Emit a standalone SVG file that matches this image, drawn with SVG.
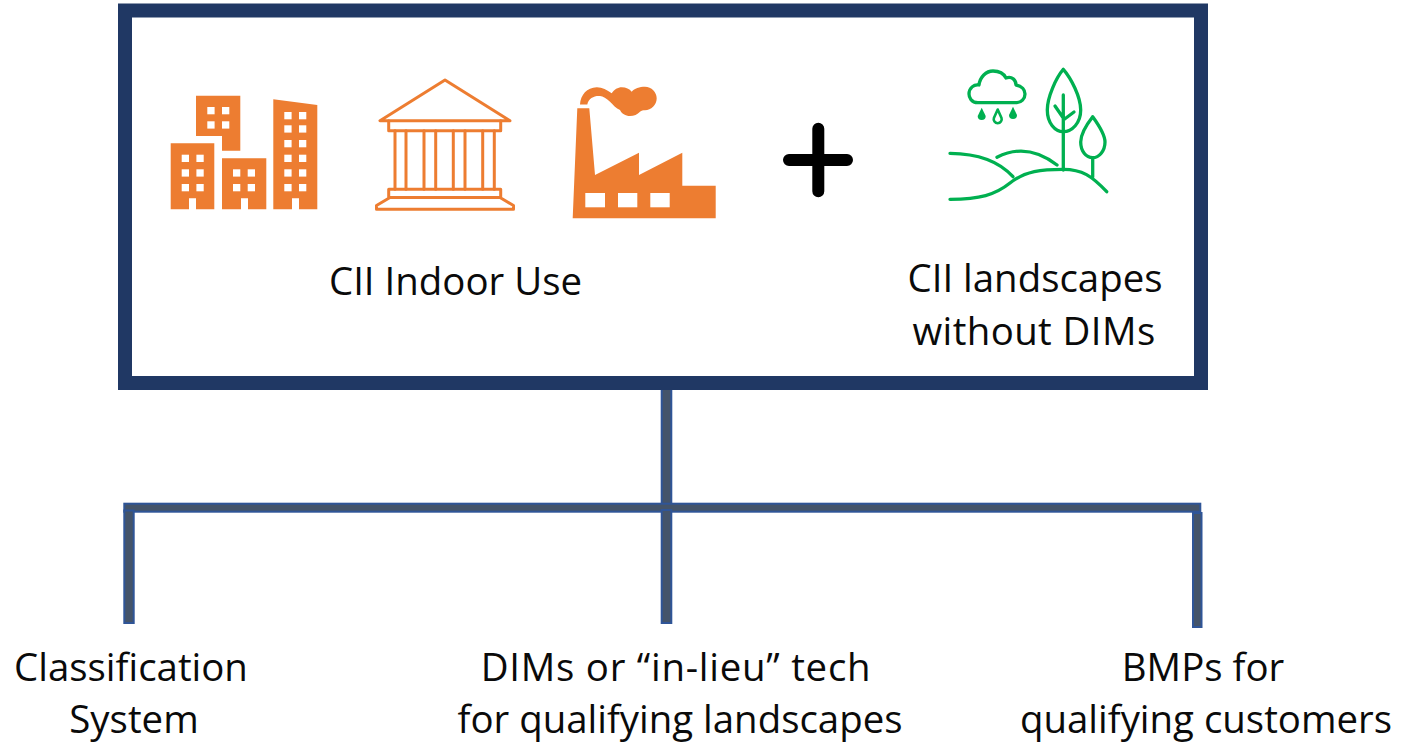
<svg xmlns="http://www.w3.org/2000/svg" width="1404" height="743" viewBox="0 0 1404 743">
<style>
.t{font-family:"Open Sans","Noto Sans","Liberation Sans",sans-serif;font-size:38.400px;fill:#0a0a0a;text-anchor:middle}
.o{fill:#ed7d31}
.w{fill:#fff}
.ol{fill:none;stroke:#ed7d31;stroke-width:3;stroke-linejoin:round;stroke-linecap:round}
.g{fill:none;stroke:#00b050;stroke-width:3.300;stroke-linejoin:round;stroke-linecap:round}
.c{fill:#44546a;stroke:#2f5597;stroke-width:2}
</style>
<defs>
<g id="win"><rect class="w" width="7.300" height="7.300"/><rect class="w" x="14.700" width="7.300" height="7.300"/></g>
</defs>
<rect width="1404" height="743" fill="#fff"/>
<g id="connectors">
<rect class="c" x="661.700" y="388" width="9.600" height="120"/>
<rect class="c" x="124.300" y="503.700" width="1076" height="8"/>
<rect class="c" x="124.300" y="510.500" width="9.400" height="112.500"/>
<rect class="c" x="661.700" y="510" width="9.600" height="113"/>
<rect class="c" x="1193" y="513" width="8.500" height="114"/>
</g>
<g id="main-box">
<rect x="125" y="10.500" width="1076" height="372.500" fill="#fff" stroke="#203864" stroke-width="14"/>
</g>
<g id="buildings">
<path class="o" d="M170.700 143.300H214.300V209.300H196V198.300H189V209.300H170.700Z"/>
<use href="#win" x="181.700" y="154.700"/><use href="#win" x="181.700" y="169.300"/><use href="#win" x="181.700" y="184"/>
<path class="o" d="M196 95.700H240.300V150.700H222V136H196Z"/>
<use href="#win" x="207.300" y="107"/><use href="#win" x="207.300" y="121.300"/>
<path class="o" d="M222 158.300H266.300V209.300H248V198.300H241V209.300H222Z"/>
<use href="#win" x="233" y="169.300"/><use href="#win" x="233" y="184"/>
<path class="o" d="M273.300 99.300L317.300 105V209.300H299V198.300H292V209.300H273.300Z"/>
<use href="#win" x="284.300" y="112"/><use href="#win" x="284.300" y="125.300"/><use href="#win" x="284.300" y="140"/><use href="#win" x="284.300" y="154.700"/><use href="#win" x="284.300" y="169.300"/><use href="#win" x="284.300" y="184"/>
</g>
<g id="temple">
<path class="ol" d="M445 80L380 120.700H510Z"/>
<path class="ol" d="M388.700 120.700V130.700H500.700V120.700"/>
<path class="ol" d="M395 130.700V189.300M406 130.700V189.300M424 130.700V189.300M435.700 130.700V189.300M453.300 130.700V189.300M465 130.700V189.300M482.700 130.700V189.300M494.300 130.700V189.300"/>
<path class="ol" d="M388.700 189.300H500.700V197.500H388.700ZM390 197.500L376.500 205.500V209.300H513.500V205.500L500 197.500"/>
</g>
<g id="factory">
<path class="o" d="M572.700 218.300L577.300 108.300H589.300L595 175L639 152.700V175L682.300 152.700V185.700H715.700V218.300Z"/>
<rect class="w" x="585.300" y="193" width="19.700" height="14.300"/><rect class="w" x="618" y="193" width="19.300" height="14.300"/><rect class="w" x="650.300" y="193" width="19.400" height="14.300"/>
<path class="o" d="M580 104.500C580.500 95 587 87.500 596.700 87.300C602 87.200 607 90 611.700 93.300C614 89.500 618 87.300 621.700 87.300C626 87.300 629.500 89 631.700 91.700C634.500 88.500 639.500 86.700 645 86.700C651.500 86.700 656.700 92 656.700 98.300C656.700 105 651 110.300 645 110.300C643 110.300 641.500 110.600 640 111.700C637.500 114.500 634 116 630 116C625.500 116 621.500 113.500 620 110C616 108.500 613 104.500 610 101.700C606.500 98.500 603 96 600 96C594.500 95.500 588.500 98 587.300 104.500Z"/>
</g>
<g id="plus">
<path d="M789 160H847M818.300 128.700V191.300" fill="none" stroke="#000" stroke-width="12" stroke-linecap="round"/>
</g>
<g id="landscape">
<path class="g" d="M978 102.700C971 102.700 969 97 969 94C969 88 974 84 979 85C980 77 986 71 993 71C999 71 1004 74 1006 78C1012 76 1016 80 1016 85C1022 86 1025 90 1025 94C1025 99 1021 102.700 1017 102.700Z"/>
<path d="M981.700 107.700L985.700 116A4 4 0 1 1 977.700 116Z" fill="#00b050"/>
<path d="M1013 106.700L1017 115A4 4 0 1 1 1009 115Z" fill="#00b050"/>
<path d="M997.700 109.500L1001.500 118A4 4 0 1 1 993.900 118Z" fill="none" stroke="#00b050" stroke-width="2.600" stroke-linejoin="round"/>
<path class="g" d="M1063.300 69.300C1056 78 1047.300 97 1047.300 110C1047.300 123 1055 131.700 1063.300 131.700C1072 131.700 1080.700 123 1080.700 110C1080.700 97 1071 78 1063.300 69.300Z"/>
<path class="g" d="M1063.300 95V170M1055 106L1063.300 118M1074 112L1063.300 120"/>
<path class="g" d="M1092.700 116.700C1087 124 1080.700 134 1080.700 142C1080.700 151 1086 157.700 1092.700 157.700C1099 157.700 1105 151 1105 142C1105 134 1098 124 1092.700 116.700Z"/>
<path class="g" d="M1092.700 157.700V177"/>
<path class="g" d="M950 199.300C980 199 995 195 1010 183C1025 171 1042 169.300 1063.300 169.300C1082 169.300 1092 176 1106.700 191.700"/>
<path class="g" d="M950 153.300C975 153.500 998 160 1013 176.700"/>
<path class="g" d="M997 157.300C1015 148 1035 148 1057 165"/>
</g>
<g id="label-indoor"><text class="t" x="455.500" y="295">CII Indoor Use</text></g>
<g id="label-landscapes"><text class="t" x="1035" y="292">CII landscapes</text><text class="t" x="1034" y="345" letter-spacing="0.400">without DIMs</text></g>
<g id="label-classification"><text class="t" x="131" y="681">Classification</text><text class="t" x="134" y="733">System</text></g>
<g id="label-dims"><text class="t" x="676" y="681" letter-spacing="0.750">DIMs or “in-lieu” tech</text><text class="t" x="680" y="733">for qualifying landscapes</text></g>
<g id="label-bmps"><text class="t" x="1203" y="681">BMPs for</text><text class="t" x="1206" y="733">qualifying customers</text></g>
</svg>
